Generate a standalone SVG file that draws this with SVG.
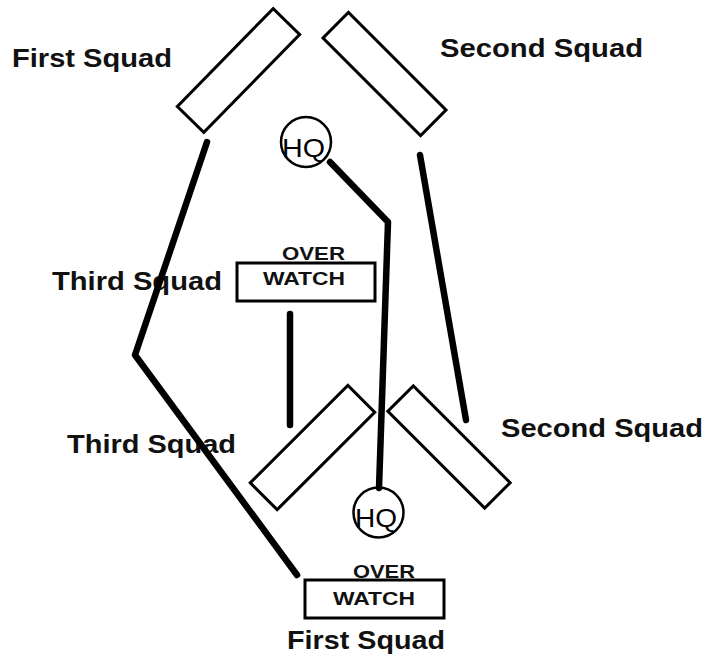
<svg xmlns="http://www.w3.org/2000/svg" width="706" height="656" viewBox="0 0 706 656">
<style>
.bg{fill:#fff}
.sq{fill:#fff;stroke:#000;stroke-width:3}
.ow{fill:#fff;stroke:#000;stroke-width:3}
.lbl{font-family:"Liberation Sans",Arial,sans-serif;font-weight:bold;font-size:26px;fill:#111}
.owt{font-family:"Liberation Sans",Arial,sans-serif;font-weight:bold;font-size:18px;fill:#111}
.hq{fill:none;stroke:#000;stroke-width:2.5}
.hqt{font-family:"Liberation Sans",Arial,sans-serif;font-size:26px;fill:#000}
.ln{fill:none;stroke:#000;stroke-width:6.5;stroke-linecap:round;stroke-linejoin:round}
</style>
<rect class="bg" x="0" y="0" width="706" height="656"/>
<g id="labels">
<text class="lbl" x="12" y="67" textLength="160" lengthAdjust="spacingAndGlyphs">First Squad</text>
<text class="lbl" x="440" y="57" textLength="203" lengthAdjust="spacingAndGlyphs">Second Squad</text>
<text class="lbl" x="52" y="290" textLength="170" lengthAdjust="spacingAndGlyphs">Third Squad</text>
<text class="lbl" x="67" y="453" textLength="169" lengthAdjust="spacingAndGlyphs">Third Squad</text>
<text class="lbl" x="501" y="437" textLength="202" lengthAdjust="spacingAndGlyphs">Second Squad</text>
<text class="lbl" x="287" y="649" textLength="158" lengthAdjust="spacingAndGlyphs">First Squad</text>
</g>
<g id="first-squad-top"><rect class="sq" x="-68.5" y="-18.5" width="137" height="37" transform="translate(238.5,70.5) rotate(-45.6)"/></g>
<g id="second-squad-top"><rect class="sq" x="-69" y="-18" width="138" height="36" transform="translate(384.5,74) rotate(45)"/></g>
<g id="third-squad-bottom"><rect class="sq" x="-69" y="-19" width="138" height="38" transform="translate(312.5,447.5) rotate(-45)"/></g>
<g id="second-squad-bottom"><rect class="sq" x="-68.5" y="-18" width="137" height="36" transform="translate(449,447) rotate(45)"/></g>
<g id="overwatch-top">
<rect class="ow" x="237" y="263" width="138" height="38"/>
<text class="owt" x="282" y="260" textLength="63" lengthAdjust="spacingAndGlyphs">OVER</text>
<text class="owt" x="263" y="285" textLength="82" lengthAdjust="spacingAndGlyphs">WATCH</text>
</g>
<g id="overwatch-bottom">
<rect class="ow" x="305" y="580" width="139" height="38"/>
<text class="owt" x="353" y="578" textLength="62" lengthAdjust="spacingAndGlyphs">OVER</text>
<text class="owt" x="333" y="605" textLength="82" lengthAdjust="spacingAndGlyphs">WATCH</text>
</g>
<g id="hq-top">
<circle class="hq" cx="306" cy="142" r="25"/>
<text class="hqt" x="282" y="157" textLength="43" lengthAdjust="spacingAndGlyphs">HQ</text>
</g>
<g id="hq-bottom">
<circle class="hq" cx="378.5" cy="512.5" r="25"/>
<text class="hqt" x="355" y="527" textLength="42" lengthAdjust="spacingAndGlyphs">HQ</text>
</g>
<g id="connectors">
<polyline class="ln" points="207,142 135,355 297,575"/>
<polyline class="ln" points="330,162 388,222 379,488"/>
<polyline class="ln" points="420,155 466,420"/>
<polyline class="ln" points="290,314 290,425"/>
</g>
</svg>
